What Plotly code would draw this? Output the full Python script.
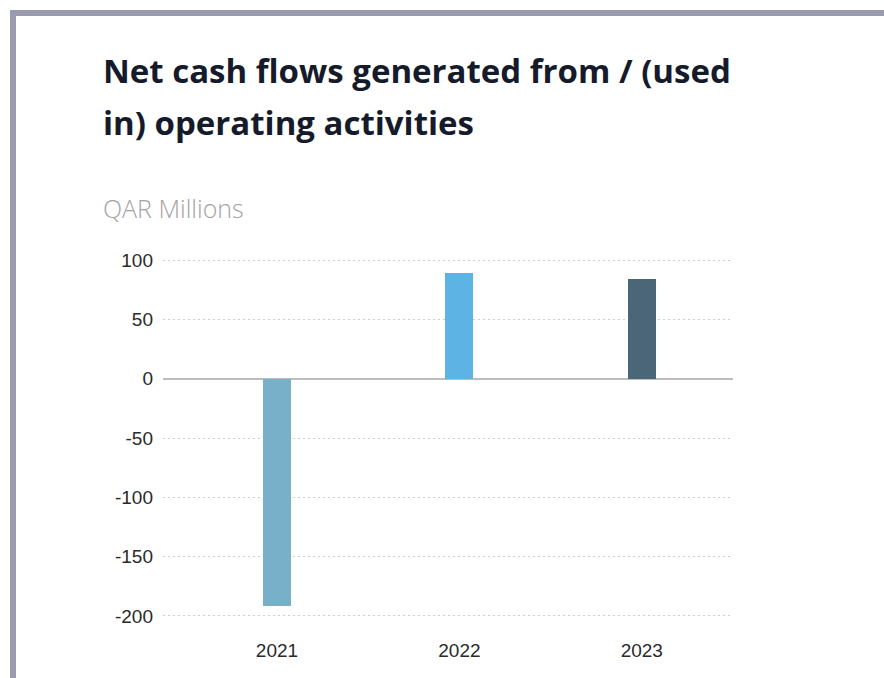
import plotly.graph_objects as go

# Net operating cash flows, QAR millions
years = ["2021", "2022", "2023"]
values = [-192, 89, 84]
bar_colors = ["#78afc9", "#5db3e4", "#4a6677"]
y_ticks = [100, 50, 0, -50, -100, -150, -200]

W, H = 884, 678
L, R, T, B = 163, 733, 258, 618  # plot area in pixels
Y_RANGE = [-201.7, 101.7]

fig = go.Figure()
fig.add_trace(go.Bar(
    x=years,
    y=values,
    marker=dict(color=bar_colors, line=dict(width=0)),
    width=0.153,
    hoverinfo="x+y",
))

fig.update_layout(
    width=W,
    height=H,
    margin=dict(l=L, r=W - R, t=T, b=H - B, pad=0),
    paper_bgcolor="white",
    plot_bgcolor="white",
    showlegend=False,
    bargap=0,
    font=dict(family="Liberation Sans, Arial, sans-serif", color="#333333"),
    xaxis=dict(
        type="category",
        range=[-0.625, 2.5],
        showgrid=False,
        showline=False,
        zeroline=False,
        ticks="",
        tickfont=dict(size=19, color="#2a2a2a"),
        ticklabelstandoff=19,
    ),
    yaxis=dict(
        range=Y_RANGE,
        tickvals=y_ticks,
        ticktext=[str(v) for v in y_ticks],
        showgrid=True,
        gridcolor="#cfcfcf",
        griddash="2px,3px",
        gridwidth=1,
        zeroline=True,
        zerolinecolor="#bdbdbd",
        zerolinewidth=2,
        showline=False,
        ticks="",
        tickfont=dict(size=19, color="#2a2a2a"),
        ticklabelstandoff=9,
    ),
)


def px_x(p):
    return (p - L) / (R - L)


def px_y(p):
    return (B - p) / (B - T)


# Chart heading and unit label
heading_font = dict(family="Open Sans, Noto Sans, sans-serif", size=33, color="#161b2b", weight="bold")
fig.add_annotation(
    text="Net cash flows generated from / (used",
    xref="paper", yref="paper", x=px_x(101), y=px_y(70),
    xanchor="left", yanchor="middle", showarrow=False, font=heading_font,
)
fig.add_annotation(
    text="in) operating activities",
    xref="paper", yref="paper", x=px_x(101), y=px_y(122),
    xanchor="left", yanchor="middle", showarrow=False, font=heading_font,
)
fig.add_annotation(
    text="QAR Millions",
    xref="paper", yref="paper", x=px_x(101), y=px_y(208),
    xanchor="left", yanchor="middle", showarrow=False,
    font=dict(family="Open Sans, Noto Sans, sans-serif", size=25, color="#a3a3a3", weight=300),
)

# Frame: top and left edges of the card
frame_color = "#9a9cad"
fig.add_shape(type="rect", xref="paper", yref="paper",
              x0=px_x(10), x1=px_x(W + 5), y0=px_y(16), y1=px_y(10),
              fillcolor=frame_color, line=dict(width=0), layer="above")
fig.add_shape(type="rect", xref="paper", yref="paper",
              x0=px_x(10), x1=px_x(16), y0=px_y(H + 5), y1=px_y(10),
              fillcolor=frame_color, line=dict(width=0), layer="above")

fig.write_html("out.html")
